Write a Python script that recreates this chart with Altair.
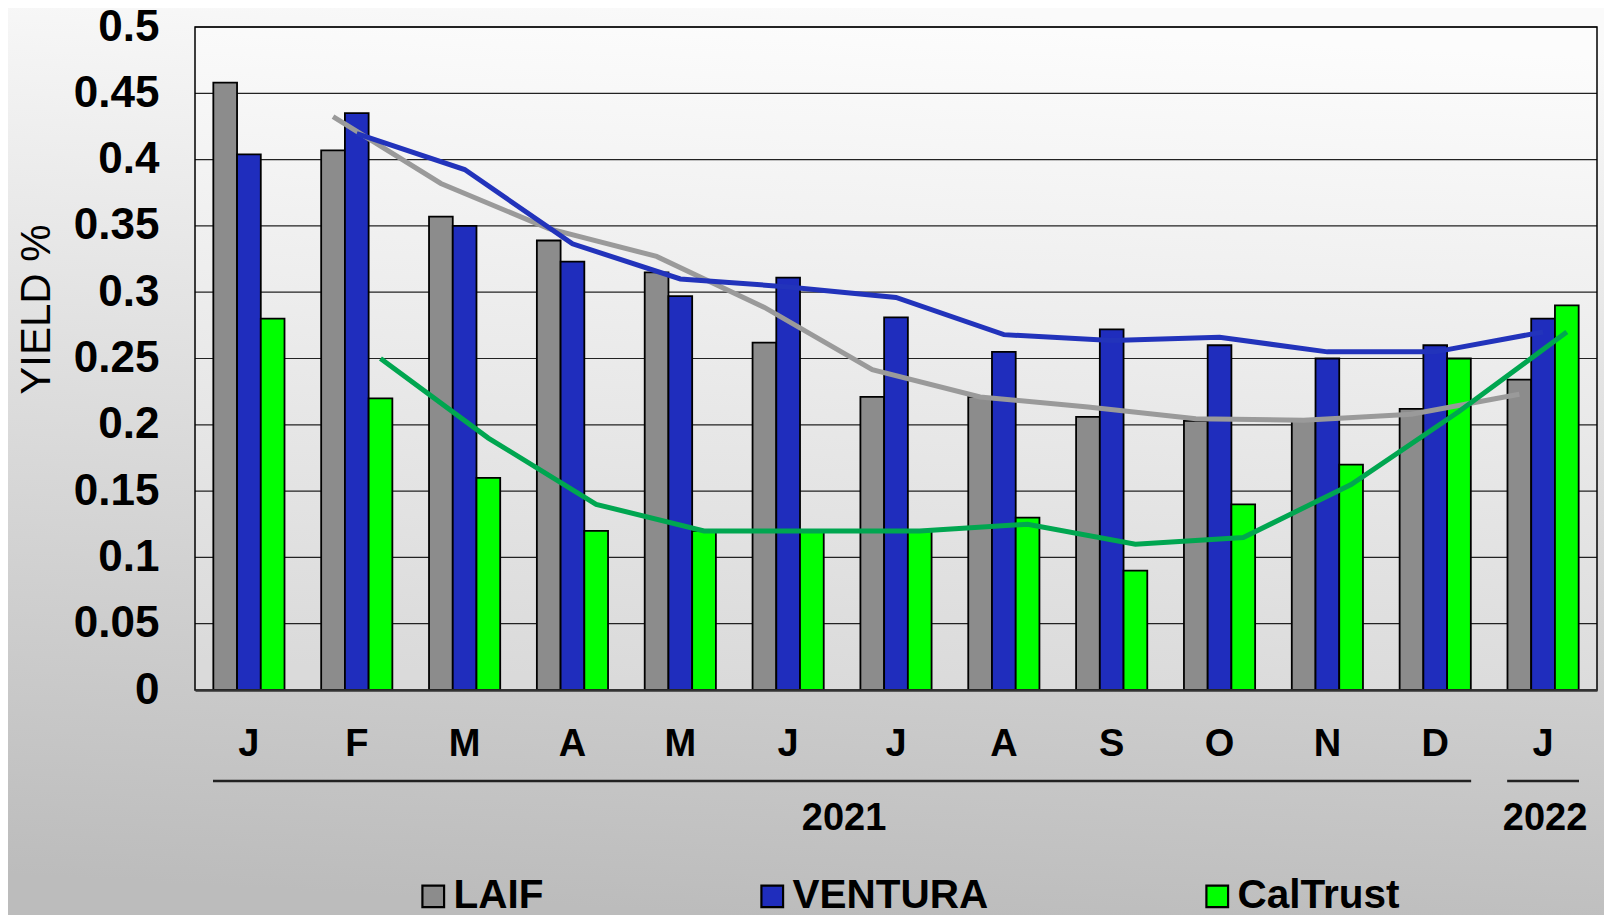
import altair as alt
import pandas as pd

# ---- data ----
months = ["J", "F", "M", "A", "M", "J", "J", "A", "S", "O", "N", "D", "J"]
series_names = ["LAIF", "VENTURA", "CalTrust"]
laif = [0.458, 0.407, 0.357, 0.339, 0.315, 0.262, 0.221, 0.221, 0.206, 0.203, 0.204, 0.212, 0.234]
ventura = [0.404, 0.435, 0.350, 0.323, 0.297, 0.311, 0.281, 0.255, 0.272, 0.260, 0.250, 0.260, 0.280]
caltrust = [0.280, 0.220, 0.160, 0.120, 0.120, 0.120, 0.120, 0.130, 0.090, 0.140, 0.170, 0.250, 0.290]
y_ticks = [0, 0.05, 0.1, 0.15, 0.2, 0.25, 0.3, 0.35, 0.4, 0.45, 0.5]
years = ["2021", "2022"]
year_start = [0, 12]
year_end = [12, 13]

bar_colors = ["#8c8c8c", "#1f2dbd", "#00ff00"]
bar_edges = ["black", "black", "black"]
line_colors = ["#9a9a9a", "#2233bb", "#00a650"]
FONT = "Liberation Sans"

rows = []
for name, vals in zip(series_names, [laif, ventura, caltrust]):
    for i, v in enumerate(vals):
        rows.append({"idx": i, "series": name, "edge": name, "value": v})
df = pd.DataFrame(rows)
ydf = pd.DataFrame({"year": years, "start": year_start, "end": year_end})
gdf = pd.DataFrame({"tick": y_ticks[1:]})

W, H = 1402, 663
PAD = {"left": 187, "top": 19, "right": 7, "bottom": 225}

label_expr = "[" + ",".join("'%s'" % m for m in months) + "][datum.value]"

x_enc = alt.X(
    "idx:O",
    scale=alt.Scale(paddingInner=0.34, paddingOuter=0.17),
    axis=alt.Axis(
        title=None, labelExpr=label_expr, labelAngle=0, ticks=False,
        labelFontSize=38, labelFontWeight="bold", labelFont=FONT,
        labelColor="black", labelPadding=35, domainColor="#333333",
        domainWidth=2.5, grid=False, zindex=1,
    ),
)
off_enc = alt.XOffset("series:N", sort=series_names,
                      scale=alt.Scale(domain=series_names, paddingInner=0, paddingOuter=0))
y_axis = alt.Axis(
    title="YIELD %", values=y_ticks, format="~g", ticks=False, domain=False, grid=False,
    labelFontSize=44, labelFontWeight="bold", labelFont=FONT, labelColor="black",
    labelPadding=36, zindex=1,
    titleFontSize=42, titleFontWeight="normal", titleFont=FONT, titleColor="black",
    titleX=-159, titleY=282, titleAngle=-90, titleBaseline="middle", titleAlign="center",
)
y_scale = alt.Scale(domain=[0, 0.5], nice=False)

legend_common = dict(
    title=None, orient="none", legendX=218, legendY=849, direction="horizontal",
    labelFontSize=40.5, labelFontWeight="bold", labelFont=FONT, labelColor="black",
    labelLimit=600, symbolType="square", symbolSize=470, symbolOpacity=1,
    columnPadding=208, labelOffset=0,
)
fill_legend = alt.Legend(symbolStrokeWidth=0, **legend_common)
edge_legend = alt.Legend(symbolStrokeWidth=2.2, symbolFillColor="transparent",
                         labelOpacity=0, **legend_common)

bg_outer = alt.Chart(alt.Data(values=[{"k": 0}])).mark_rect(
    fill={"gradient": "linear", "x1": 0.55, "y1": 0, "x2": 0.45, "y2": 1,
          "stops": [{"offset": 0, "color": "#fafafa"}, {"offset": 1, "color": "#bcbcbc"}]}
).encode(x=alt.value(-PAD["left"]), x2=alt.value(W + PAD["right"]),
         y=alt.value(-PAD["top"]), y2=alt.value(H + PAD["bottom"]))

bg_plot = alt.Chart(alt.Data(values=[{"k": 0}])).mark_rect(
    fill={"gradient": "linear", "x1": 0.55, "y1": 0, "x2": 0.45, "y2": 1,
          "stops": [{"offset": 0, "color": "#fcfcfc"}, {"offset": 1, "color": "#dadada"}]}
).encode(x=alt.value(0), x2=alt.value(W), y=alt.value(0), y2=alt.value(H))

grid = alt.Chart(gdf).mark_rule(color="#222222", strokeWidth=1.2).encode(
    y=alt.Y("tick:Q", scale=y_scale, axis=y_axis),
)

frame = alt.Chart(alt.Data(values=[{"k": 0}])).mark_rect(
    filled=False, stroke="black", strokeWidth=1.5
).encode(x=alt.value(0), x2=alt.value(W), y=alt.value(0), y2=alt.value(H))

bars = alt.Chart(df).mark_bar(strokeWidth=1.8).encode(
    x=x_enc,
    xOffset=off_enc,
    y=alt.Y("value:Q", scale=y_scale, axis=y_axis),
    fill=alt.Fill("series:N", sort=series_names,
                  scale=alt.Scale(domain=series_names, range=bar_colors), legend=fill_legend),
    stroke=alt.Stroke("edge:N", sort=series_names,
                      scale=alt.Scale(range=bar_edges), legend=edge_legend),
)

lines = alt.Chart(df).transform_window(
    ma="mean(value)", frame=[-1, 0], groupby=["series"], sort=[alt.SortField("idx")]
).transform_filter("datum.idx >= 1").mark_line(strokeWidth=5).encode(
    x=x_enc,
    xOffset=off_enc,
    y=alt.Y("ma:Q", scale=y_scale, axis=y_axis),
    color=alt.Color("series:N", sort=series_names,
                    scale=alt.Scale(domain=series_names, range=line_colors), legend=None),
)

xq_scale = alt.Scale(domain=[0, 13], nice=False, zero=False)
year_rule = alt.Chart(ydf).mark_rule(color="#222222", strokeWidth=2.5, xOffset=18, x2Offset=-18).encode(
    x=alt.X("start:Q", scale=xq_scale, axis=None),
    x2="end:Q",
    y=alt.value(H + 91),
)
year_text = alt.Chart(ydf).transform_calculate(mid="(datum.start + datum.end) / 2").mark_text(
    fontSize=38, fontWeight="bold", font=FONT, color="black", baseline="middle", dx=2
).encode(
    x=alt.X("mid:Q", scale=xq_scale, axis=None),
    y=alt.value(H + 129),
    text="year:N",
)

chart = alt.layer(
    bg_outer, bg_plot, grid, frame,
    alt.layer(bars, lines).resolve_scale(stroke="independent", color="independent"),
    alt.layer(year_rule, year_text),
).resolve_scale(x="independent").properties(
    width=W, height=H, padding=PAD, autosize=alt.AutoSizeParams(type="none")
).configure_view(strokeWidth=0).configure(background="#e6e6e6", font=FONT)

chart.save("out.html", embed_options={"renderer": "svg", "actions": False})
